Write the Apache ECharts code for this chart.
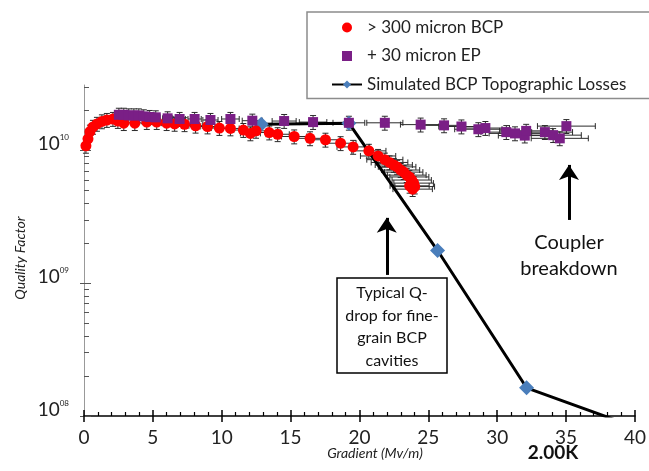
<!DOCTYPE html>
<html><head><meta charset="utf-8">
<script src="https://cdn.jsdelivr.net/npm/echarts@6/dist/echarts.min.js"></script>
<style>html,body{margin:0;padding:0;background:#fff}#c{width:649px;height:471px}</style>
</head><body><div id="c"></div>
<script>
// > 300 micron BCP
const bcpX = [0.14,0.29,0.43,0.65,0.94,1.30,1.66,2.10,2.46,2.89,3.69,4.56,5.28,6.00,6.58,7.30,8.10,8.97,9.83,10.63,11.57,12.08,12.49,13.45,14.06,15.26,16.41,17.53,18.63,19.54,20.68,21.35,21.84,22.18,22.49,22.73,22.99,23.21,23.43,23.62,23.79,23.93,24.01,23.86,23.64];
const bcpQ = [1.08e10,1.22e10,1.38e10,1.50e10,1.58e10,1.65e10,1.69e10,1.72e10,1.66e10,1.60e10,1.60e10,1.63e10,1.63e10,1.60e10,1.58e10,1.57e10,1.53e10,1.51e10,1.47e10,1.46e10,1.42e10,1.34e10,1.40e10,1.36e10,1.32e10,1.27e10,1.23e10,1.20e10,1.13e10,1.06e10,9.9e9,9.06e9,8.5e9,8.1e9,7.75e9,7.5e9,7.1e9,6.85e9,6.5e9,6.3e9,5.97e9,5.66e9,5.33e9,5.1e9,5.4e9];
// + 30 micron EP
const epX = [2.53,2.89,3.25,3.62,3.98,4.34,4.77,5.21,6.07,6.94,8.03,9.18,10.63,12.22,14.53,16.63,19.23,21.84,24.44,26.14,27.40,28.63,29.14,30.66,31.29,32.00,32.10,33.46,34.06,34.54,35.02];
const epQ = [1.85e10,1.85e10,1.83e10,1.83e10,1.83e10,1.80e10,1.78e10,1.77e10,1.74e10,1.72e10,1.72e10,1.69e10,1.72e10,1.67e10,1.66e10,1.63e10,1.61e10,1.61e10,1.56e10,1.54e10,1.51e10,1.44e10,1.47e10,1.37e10,1.34e10,1.29e10,1.40e10,1.37e10,1.30e10,1.23e10,1.52e10];
// Simulated BCP Topographic Losses
const simX = [12.87, 19.23, 25.67, 32.13, 38.5];
const simQ = [1.57e10, 1.60e10, 1.76e9, 1.63e8, 9.4e7];
// relative error bar sizes
const relErrX = 0.06, relErrQ = 0.12;
// axes
const xMin = 0, xMax = 40, xStep = 5;
const yMin = 1e8, yMax = 3.1e10;
const yMajorTicks = [1e8, 1e9, 1e10];
const yMinorTicks = [2e8,3e8,4e8,5e8,6e8,7e8,8e8,9e8,2e9,3e9,4e9,5e9,6e9,7e9,8e9,9e9,2e10,3e10];
// annotation arrows [x, Qtip, Qtail]
const arrowQdrop = [21.98, 3.1e9, 1.153e9];
const arrowCoupler = [35.21, 7.76e9, 2.99e9];

const F = 'Lato, "Open Sans", sans-serif';
const pairs = (xs, ys) => xs.map((x, i) => [x, ys[i]]);

function errRender(params, api) {
  const x = api.value(0), q = api.value(1);
  const c = api.coord([x, q]);
  const t = api.coord([x, q * (1 + relErrQ)]);
  const b = api.coord([x, q * (1 - relErrQ)]);
  const l = api.coord([x * (1 - relErrX), q]);
  const r = api.coord([x * (1 + relErrX), q]);
  const cap = 3;
  const st = { stroke: '#2a2a2a', lineWidth: 1 };
  const ln = (x1, y1, x2, y2) => ({ type: 'line', shape: { x1, y1, x2, y2 }, style: st });
  return { type: 'group', children: [
    ln(c[0], t[1], c[0], b[1]), ln(c[0]-cap, t[1], c[0]+cap, t[1]), ln(c[0]-cap, b[1], c[0]+cap, b[1]),
    ln(l[0], c[1], r[0], c[1]), ln(l[0], c[1]-cap, l[0], c[1]+cap), ln(r[0], c[1]-cap, r[0], c[1]+cap)
  ]};
}

const chart = echarts.init(document.getElementById('c'), null, { renderer: 'canvas' });
const baseY = { type: 'log', min: yMin, max: yMax, position: 'left', splitLine: { show: false } };
chart.setOption({
  animation: false,
  backgroundColor: '#fff',
  grid: { left: 84, right: 11.7, top: 85, bottom: 55 },
  xAxis: [
    { type: 'value', min: xMin, max: xMax, interval: xStep, position: 'bottom',
      axisLine: { show: true, lineStyle: { color: '#000', width: 1.5 } },
      axisTick: { show: true, inside: true, length: 6, lineStyle: { color: '#000', width: 1.5 } },
      minorTick: { show: true, splitNumber: 5, length: 4, lineStyle: { color: '#000', width: 1.2 } },
      splitLine: { show: false },
      axisLabel: { fontFamily: F, fontSize: 19, color: '#222', margin: 12 } },
    { type: 'value', min: xMin, max: xMax, interval: xStep, position: 'bottom',
      axisLine: { show: false }, axisLabel: { show: false }, splitLine: { show: false },
      axisTick: { show: true, inside: false, length: 6, lineStyle: { color: '#000', width: 1.5 } } }
  ],
  yAxis: [
    Object.assign({}, baseY, {
      axisLine: { show: true, lineStyle: { color: '#999', width: 1 } },
      axisTick: { show: true, inside: true, length: 7, customValues: yMajorTicks, lineStyle: { color: '#555' } },
      axisLabel: { customValues: yMajorTicks, margin: 15, padding: [0, 0, 12, 0],
        formatter: v => '{m|10}{e|' + String(Math.round(Math.log10(v))).padStart(2, '0') + '}',
        rich: { m: { fontFamily: F, fontSize: 19, color: '#222' },
                e: { fontFamily: F, fontSize: 8, color: '#222', padding: [0, 0, 14, 0] } } } }),
    Object.assign({}, baseY, {
      axisLine: { show: false }, axisLabel: { show: false },
      axisTick: { show: true, inside: true, length: 5, customValues: yMinorTicks, lineStyle: { color: '#555' } } }),
    Object.assign({}, baseY, {
      axisLine: { show: false }, axisLabel: { show: false },
      axisTick: { show: true, inside: false, length: 4, customValues: yMajorTicks, lineStyle: { color: '#555' } } })
  ],
  legend: {
    orient: 'vertical', left: 307, top: 12, selectedMode: false,
    padding: [6, 24, 4.5, 24], itemGap: 9.5, itemWidth: 30, itemHeight: 10,
    borderColor: '#8c8c8c', borderWidth: 1.5, backgroundColor: '#fff',
    textStyle: { fontFamily: F, fontSize: 17, color: '#222', lineHeight: 19 },
    data: [
      { name: '> 300 micron BCP' },
      { name: '+ 30 micron EP', icon: 'path://M0,0H1V1H0Z' },
      { name: 'Simulated BCP Topographic Losses' }
    ]
  },
  series: [
    { type: 'custom', name: 'err-bcp', renderItem: errRender, data: pairs(bcpX, bcpQ), z: 1, silent: true },
    { type: 'custom', name: 'err-ep', renderItem: errRender, data: pairs(epX, epQ), z: 1, silent: true },
    { type: 'line', name: 'Simulated BCP Topographic Losses', data: pairs(simX, simQ), clip: true, z: 2,
      symbol: 'diamond', symbolSize: 15, showAllSymbol: true,
      lineStyle: { color: '#000', width: 3 }, itemStyle: { color: '#4a7ebb' },
      markLine: { silent: true, symbol: ['arrow', 'none'], symbolSize: 15, label: { show: false },
        lineStyle: { color: '#000', width: 3, type: 'solid' },
        data: [
          [{ coord: [arrowQdrop[0], arrowQdrop[1]] }, { coord: [arrowQdrop[0], arrowQdrop[2]] }],
          [{ coord: [arrowCoupler[0], arrowCoupler[1]] }, { coord: [arrowCoupler[0], arrowCoupler[2]] }]
        ] } },
    { type: 'scatter', name: '> 300 micron BCP', data: pairs(bcpX, bcpQ), z: 3,
      symbol: 'circle', symbolSize: 11, symbolKeepAspect: true, itemStyle: { color: '#ff0000', opacity: 1 } },
    { type: 'scatter', name: '+ 30 micron EP', data: pairs(epX, epQ), z: 4,
      symbol: 'rect', symbolSize: 10, symbolKeepAspect: true, itemStyle: { color: '#7a1f86', opacity: 1 } }
  ],
  graphic: [
    { type: 'text', x: 20, y: 258, rotation: Math.PI / 2,
      style: { text: 'Quality Factor', font: 'italic 14px ' + F, fill: '#222', textAlign: 'center', textVerticalAlign: 'middle' } },
    { type: 'text', x: 375, y: 453,
      style: { text: 'Gradient (Mv/m)', font: 'italic 14px ' + F, fill: '#222', textAlign: 'center', textVerticalAlign: 'middle' } },
    { type: 'text', x: 553, y: 453,
      style: { text: '2.00K', font: 'bold 19px ' + F, fill: '#111', textAlign: 'center', textVerticalAlign: 'middle' } },
    { type: 'rect', shape: { x: 337, y: 278, width: 110, height: 95 }, z: 10,
      style: { fill: '#fff', stroke: '#000', lineWidth: 1.5 } },
    { type: 'text', x: 392, y: 327, z: 11,
      style: { text: 'Typical Q-\ndrop for fine-\ngrain BCP\ncavities', font: '16px ' + F, lineHeight: 22.5, fill: '#111', textAlign: 'center', textVerticalAlign: 'middle' } },
    { type: 'text', x: 569, y: 256, z: 11,
      style: { text: 'Coupler\nbreakdown', font: '20px ' + F, lineHeight: 26, fill: '#111', textAlign: 'center', textVerticalAlign: 'middle' } }
  ]
});
</script></body></html>
